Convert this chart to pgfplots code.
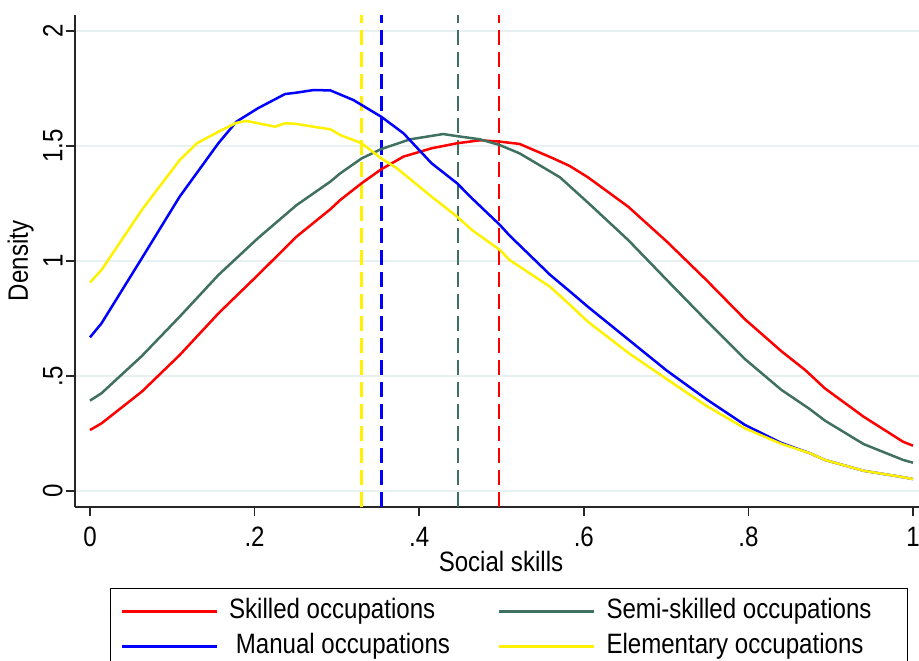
\documentclass[border=0pt]{standalone}
\usepackage{fontspec}
\setmainfont{Liberation Sans}[FakeStretch=0.86]
\usepackage{pgfplots}
\pgfplotsset{compat=1.18}
\definecolor{sgreen}{RGB}{64,112,96}
\definecolor{sgrid}{RGB}{232,240,242}

\pgfplotstableread{
x y
0 0.265
0.014 0.294
0.063 0.432
0.109 0.591
0.156 0.772
0.204 0.939
0.251 1.106
0.292 1.225
0.304 1.265
0.330 1.338
0.354 1.399
0.381 1.454
0.415 1.490
0.446 1.512
0.474 1.525
0.498 1.519
0.522 1.509
0.563 1.446
0.583 1.413
0.605 1.364
0.654 1.236
0.701 1.084
0.749 0.917
0.796 0.746
0.840 0.608
0.869 0.526
0.893 0.446
0.940 0.323
0.988 0.214
1.0 0.197
}\skilled

\pgfplotstableread{
x y
0 0.393
0.014 0.425
0.063 0.587
0.109 0.758
0.156 0.939
0.204 1.099
0.251 1.243
0.292 1.345
0.304 1.381
0.330 1.446
0.354 1.487
0.389 1.529
0.429 1.552
0.446 1.543
0.474 1.529
0.498 1.504
0.522 1.468
0.563 1.381
0.571 1.364
0.605 1.254
0.654 1.091
0.701 0.917
0.749 0.741
0.796 0.573
0.840 0.440
0.875 0.355
0.893 0.306
0.940 0.204
0.988 0.135
1.0 0.123
}\semiskilled

\pgfplotstableread{
x y
0 0.668
0.014 0.729
0.063 1.012
0.109 1.280
0.156 1.512
0.178 1.606
0.204 1.664
0.237 1.726
0.251 1.732
0.271 1.743
0.292 1.742
0.320 1.700
0.354 1.627
0.381 1.555
0.415 1.425
0.446 1.338
0.464 1.273
0.498 1.157
0.510 1.110
0.559 0.940
0.583 0.868
0.605 0.801
0.654 0.659
0.701 0.523
0.749 0.399
0.796 0.287
0.840 0.209
0.875 0.164
0.893 0.135
0.940 0.088
0.988 0.060
1.0 0.052
}\manual

\pgfplotstableread{
x y
0 0.907
0.014 0.961
0.063 1.222
0.109 1.439
0.130 1.512
0.156 1.562
0.178 1.601
0.190 1.609
0.204 1.599
0.225 1.584
0.237 1.599
0.251 1.596
0.271 1.584
0.292 1.573
0.304 1.548
0.330 1.512
0.354 1.446
0.373 1.403
0.415 1.280
0.446 1.193
0.464 1.135
0.498 1.048
0.510 1.004
0.559 0.888
0.583 0.810
0.605 0.736
0.654 0.601
0.701 0.486
0.749 0.370
0.796 0.272
0.840 0.205
0.875 0.164
0.893 0.135
0.940 0.088
0.988 0.060
1.0 0.052
}\elementary

\begin{document}
\fontsize{14pt}{16pt}\selectfont
\begin{tikzpicture}
\begin{axis}[
  scale only axis,
  width=422pt, height=246pt,
  xmin=-0.0182, xmax=1.0073,
  ymin=-0.0696, ymax=2.0696,
  axis x line*=bottom, axis y line*=left,
  axis line style={line width=0.9pt, color=black!85, -},
  xtick={0,0.2,0.4,0.6,0.8,1}, xticklabels={0,.2,.4,.6,.8,1},
  ytick={0,0.5,1,1.5,2}, yticklabels={0,.5,1,1.5,2},
  tick align=outside, major tick length=4.5pt,
  tick style={line width=0.9pt, color=black!85},
  yticklabel style={xshift=0.5pt, rotate=90, anchor=south, inner sep=2pt},
  xticklabel style={anchor=north, inner sep=0pt, text height=15pt},
  ymajorgrids,
  grid style={line width=1pt, color=sgrid},
  xlabel={Social skills}, ylabel={Density},
  xlabel style={at={(axis description cs:0.5047,0)}, anchor=north, inner sep=0pt, yshift=-22pt},
  ylabel style={at={([xshift=-20.5pt]axis description cs:0,0.5)}, anchor=south, inner sep=0pt},
  every tick label/.append style={font=\fontsize{14pt}{16pt}\selectfont},
  label style={font=\fontsize{14pt}{16pt}\selectfont},
  legend columns=2,
  legend cell align=left,
  legend image code/.code={\draw[#1] (0pt,0pt) -- (47.5pt,0pt);},
  legend style={
    at={(axis description cs:0.0415,-0.1646)}, anchor=north west,
    draw=black, line width=0.6pt,
    font=\fontsize{14pt}{16pt}\selectfont,
    inner xsep=5pt, inner ysep=5pt,
    row sep=4.5pt,
    nodes={inner sep=0pt, text height=10pt, text depth=3pt},
    /tikz/every odd column/.append style={column sep=5.5pt},
    /tikz/every even column/.append style={column sep=24pt},
  },
]
\addplot[forget plot, yellow, line width=1.25pt, dash pattern=on 7.5pt off 3.5pt] coordinates {(0.330,-0.0696) (0.330,2.0696)};
\addplot[forget plot, blue, line width=1.25pt, dash pattern=on 7.5pt off 3.5pt] coordinates {(0.354,-0.0696) (0.354,2.0696)};
\addplot[forget plot, sgreen, line width=1.25pt, dash pattern=on 7.5pt off 3.5pt] coordinates {(0.447,-0.0696) (0.447,2.0696)};
\addplot[forget plot, red, line width=1.25pt, dash pattern=on 7.5pt off 3.5pt] coordinates {(0.497,-0.0696) (0.497,2.0696)};

\addplot[red, line width=1.25pt] table[x=x,y=y] {\skilled};
\addlegendentry{Skilled occupations}
\addplot[sgreen, line width=1.25pt] table[x=x,y=y] {\semiskilled};
\addlegendentry{Semi-skilled occupations\hspace*{13pt}}
\addplot[blue, line width=1.25pt] table[x=x,y=y] {\manual};
\addlegendentry{\ Manual occupations}
\addplot[yellow, line width=1.25pt] table[x=x,y=y] {\elementary};
\addlegendentry{Elementary occupations}
\end{axis}
\pgfresetboundingbox
\path[use as bounding box] (current axis.south west) ++(-37.5pt,-76.5pt) rectangle ++(459.5pt,330pt);
\end{tikzpicture}
\end{document}
